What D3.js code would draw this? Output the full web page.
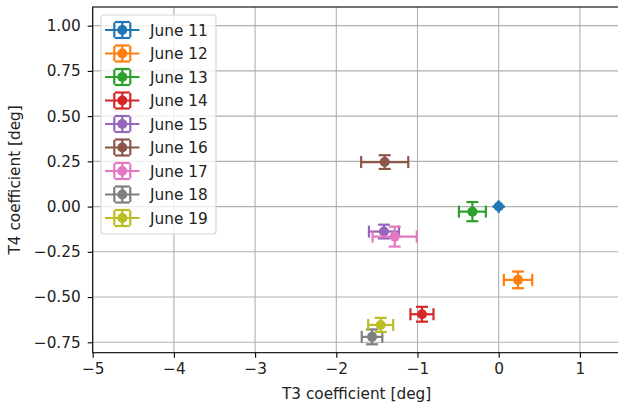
<!DOCTYPE html>
<html>
<head>
<meta charset="utf-8">
<script src="https://cdn.jsdelivr.net/npm/d3@7"></script>
<style>
  body { margin: 0; background: #fff; }
  svg text { font-family: "DejaVu Sans", sans-serif; fill: #222; }
</style>
</head>
<body>
<svg id="chart" width="618" height="407"></svg>
<script>
// Daily fitted coefficients with their uncertainties
const dates  = ["June 11", "June 12", "June 13", "June 14", "June 15", "June 16", "June 17", "June 18", "June 19"];
const t3     = [0.0, 0.238, -0.324, -0.945, -1.413, -1.404, -1.281, -1.56, -1.453];
const t4     = [0.0, -0.405, -0.028, -0.595, -0.138, 0.246, -0.166, -0.72, -0.654];
const t3Err  = [0.0, 0.175, 0.166, 0.142, 0.185, 0.29, 0.272, 0.127, 0.154];
const t4Err  = [0.0, 0.046, 0.053, 0.041, 0.038, 0.038, 0.055, 0.041, 0.039];
const colors = ["#1f77b4", "#ff7f0e", "#2ca02c", "#d62728", "#9467bd", "#8c564b", "#e377c2", "#7f7f7f", "#bcbd22"];
const xTicks = [-5, -4, -3, -2, -1, 0, 1];
const yTicks = [-0.75, -0.5, -0.25, 0.0, 0.25, 0.5, 0.75, 1.0];
const xDomain = [-5, 1.5];
const yDomain = [-0.8075, 1.103];

const rows = dates.map((d, i) => ({ date: d, x: t3[i], y: t4[i], ex: t3Err[i], ey: t4Err[i], color: colors[i] }));

const svg = d3.select("#chart");
const plotLeft = 92.7, plotTop = 7, plotRight = 620.5, plotBottom = 352.7;
const fontSize = 15.3;
const cap = 6;
const markerR = 5;

const x = d3.scaleLinear().domain(xDomain).range([plotLeft, plotRight]);
const y = d3.scaleLinear().domain(yDomain).range([plotBottom, plotTop]);

// grid
const grid = svg.append("g").attr("stroke", "#b0b0b0").attr("stroke-width", 1.1);
grid.selectAll("line.gx").data(xTicks).join("line")
  .attr("x1", d => x(d)).attr("x2", d => x(d)).attr("y1", plotTop).attr("y2", plotBottom);
grid.selectAll("line.gy").data(yTicks).join("line")
  .attr("x1", plotLeft).attr("x2", plotRight).attr("y1", d => y(d)).attr("y2", d => y(d));

// axes
const xAxis = d3.axisBottom(x).tickValues(xTicks).tickFormat(d3.format("d")).tickSize(5).tickPadding(5);
const yAxis = d3.axisLeft(y).tickValues(yTicks).tickFormat(d3.format(".2f")).tickSize(5).tickPadding(7);

const gx = svg.append("g").attr("transform", `translate(0,${plotBottom})`).call(xAxis);
const gy = svg.append("g").attr("transform", `translate(${plotLeft},0)`).call(yAxis);
[gx, gy].forEach(g => {
  g.select(".domain").remove();
  g.selectAll(".tick line").attr("stroke", "#000").attr("stroke-width", 1.1);
  g.selectAll(".tick text").attr("font-size", fontSize).attr("fill", "#222")
    .style("font-family", '"DejaVu Sans", sans-serif');
});

// frame
svg.append("rect").attr("x", plotLeft).attr("y", plotTop)
  .attr("width", plotRight - plotLeft).attr("height", plotBottom - plotTop)
  .attr("fill", "none").attr("stroke", "#000").attr("stroke-width", 1.1);

// axis labels
svg.append("text").attr("x", (plotLeft + plotRight) / 2).attr("y", 399).attr("text-anchor", "middle")
  .attr("font-size", fontSize).text("T3 coefficient [deg]");
svg.append("text").attr("transform", `translate(20,${(plotTop + plotBottom) / 2}) rotate(-90)`)
  .attr("text-anchor", "middle").attr("font-size", fontSize).text("T4 coefficient [deg]");

// error bars and markers
const plot = svg.append("g");
rows.forEach(r => {
  const g = plot.append("g").attr("stroke", r.color).attr("stroke-width", 2.2);
  const cx = x(r.x), cy = y(r.y);
  const x0 = x(r.x - r.ex), x1 = x(r.x + r.ex);
  const y0 = y(r.y - r.ey), y1 = y(r.y + r.ey);
  g.append("line").attr("x1", x0).attr("x2", x1).attr("y1", cy).attr("y2", cy);
  g.append("line").attr("x1", cx).attr("x2", cx).attr("y1", y0).attr("y2", y1);
  [x0, x1].forEach(v => g.append("line").attr("x1", v).attr("x2", v).attr("y1", cy - cap).attr("y2", cy + cap));
  [y0, y1].forEach(v => g.append("line").attr("x1", cx - cap).attr("x2", cx + cap).attr("y1", v).attr("y2", v));
  g.append("circle").attr("cx", cx).attr("cy", cy).attr("r", markerR).attr("fill", r.color).attr("stroke", "none");
});

// legend
const lg = svg.append("g");
const rowH = 23.5, ly0 = 30;
lg.append("rect").attr("x", 101).attr("y", 15).attr("width", 115).attr("height", 219).attr("rx", 3)
  .attr("fill", "#fff").attr("fill-opacity", 0.8).attr("stroke", "#d6d6d6").attr("stroke-width", 1.1);
rows.forEach((r, i) => {
  const cy = ly0 + i * rowH, cx = 122.3, half = 8;
  const g = lg.append("g").attr("stroke", r.color).attr("stroke-width", 2.2);
  g.append("line").attr("x1", 105).attr("x2", 139.5).attr("y1", cy).attr("y2", cy);
  g.append("line").attr("x1", cx).attr("x2", cx).attr("y1", cy - half).attr("y2", cy + half);
  [cx - half, cx + half].forEach(v => g.append("line").attr("x1", v).attr("x2", v).attr("y1", cy - cap - 1.5).attr("y2", cy + cap + 1.5));
  [cy - half, cy + half].forEach(v => g.append("line").attr("x1", cx - cap - 1.5).attr("x2", cx + cap + 1.5).attr("y1", v).attr("y2", v));
  g.append("circle").attr("cx", cx).attr("cy", cy).attr("r", markerR).attr("fill", r.color).attr("stroke", "none");
  lg.append("text").attr("x", 150).attr("y", cy).attr("dy", "0.36em").attr("font-size", fontSize).text(r.date);
});
</script>
</body>
</html>
